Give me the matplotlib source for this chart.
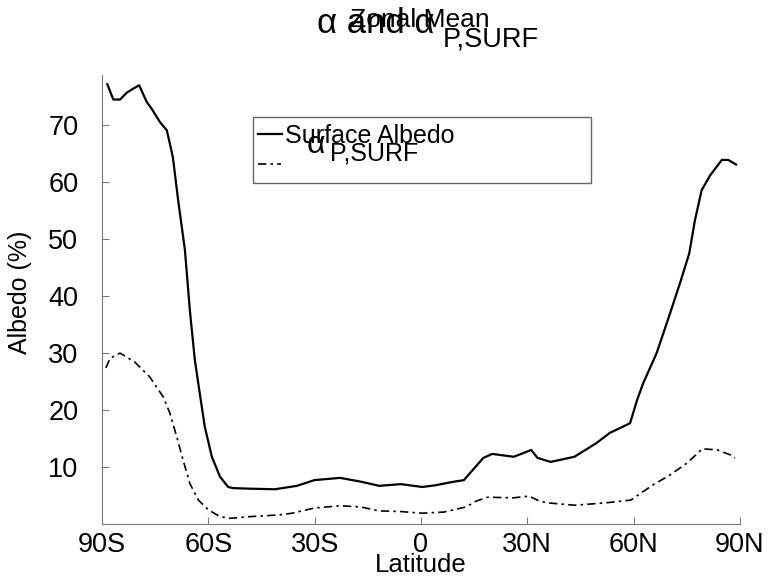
"""Zonal mean surface albedo and its planetary-surface component."""

import matplotlib.pyplot as plt
from matplotlib.lines import Line2D
from matplotlib.patches import Rectangle

plt.rcParams["font.family"] = ["Liberation Sans", "DejaVu Sans"]

# zonal mean surface albedo (%)
lat_surf = [-88.5, -86.8, -84.9, -83.0, -81.2, -79.5, -77.4, -76.0, -73.6,
            -71.7, -70.0, -68.5, -66.6, -65.2, -63.8, -62.4, -61.0, -59.0,
            -56.7, -54.4, -53.0, -48.2, -41.2, -35.0, -30.1, -22.8, -16.7,
            -11.8, -5.7, 0.4, 4.1, 9.0, 12.1, 17.6, 20.1, 26.2, 31.1, 32.9,
            36.6, 43.3, 49.5, 53.3, 56.7, 59.0, 61.0, 62.7, 66.5, 70.3, 73.1,
            75.7, 77.3, 79.2, 81.6, 84.9, 86.7, 88.9]
albedo_surf = [77.2, 74.5, 74.5, 75.7, 76.4, 77.0, 74.1, 72.9, 70.5,
               69.1, 64.4, 56.8, 48.1, 37.5, 28.8, 22.9, 17.1, 11.8,
               8.3, 6.5, 6.3, 6.2, 6.1, 6.7, 7.7, 8.1, 7.4,
               6.7, 7.0, 6.5, 6.8, 7.4, 7.7, 11.6, 12.3, 11.8, 13.0, 11.6,
               10.9, 11.8, 14.2, 16.0, 17.0, 17.7, 21.8, 24.7, 30.0, 37.0, 42.3,
               47.5, 53.3, 58.6, 61.2, 63.9, 63.9, 63.1]

# alpha_P,SURF (%)
lat_psurf = [-88.9, -87.7, -84.9, -80.7, -76.5, -72.7, -70.8, -68.9, -67.1,
             -65.2, -62.8, -60.0, -56.7, -53.9, -48.2, -40.0, -36.3, -30.1,
             -22.8, -17.0, -11.8, -6.0, 0.4, 6.5, 12.7, 15.5, 18.8, 26.2,
             30.5, 33.5, 36.0, 43.3, 51.9, 59.2, 65.3, 70.0, 75.1, 79.4, 83.7,
             87.4, 88.6]
albedo_psurf = [27.4, 29.1, 30.0, 28.4, 25.8, 22.3, 19.4, 15.3, 11.2,
                7.1, 4.2, 2.5, 1.3, 1.0, 1.3, 1.6, 1.9, 2.8,
                3.2, 3.0, 2.3, 2.2, 1.9, 2.1, 3.0, 4.0, 4.7, 4.6,
                4.9, 4.0, 3.7, 3.3, 3.7, 4.2, 6.8, 8.5, 10.7, 13.2, 13.0,
                12.1, 11.6]

lat_ticks = [-90, -60, -30, 0, 30, 60, 90]
lat_labels = ["90S", "60S", "30S", "0", "30N", "60N", "90N"]
albedo_ticks = [10, 20, 30, 40, 50, 60, 70]

DASHDOT = (0, (5, 2.5, 1.5, 2.5))
GRAY = "#7a7a7a"

fig = plt.figure(figsize=(7.69, 5.78), dpi=100)
ax = fig.add_axes([0.1326, 0.0934, 0.8296, 0.7768])

ax.plot(lat_surf, albedo_surf, color="black", lw=1.6)
ax.plot(lat_psurf, albedo_psurf, color="black", lw=1.2, linestyle=DASHDOT)

ax.set_xlim(-90, 90)
ax.set_ylim(0, 78.8)
ax.set_xticks(lat_ticks)
ax.set_xticklabels(lat_labels)
ax.set_yticks(albedo_ticks)
ax.tick_params(axis="both", direction="in", length=5, color=GRAY,
               labelsize=19.5)
ax.tick_params(axis="x", pad=6)
ax.tick_params(axis="y", pad=17)
for side in ("top", "right"):
    ax.spines[side].set_visible(False)
for side in ("left", "bottom"):
    ax.spines[side].set_color(GRAY)

ax.set_xlabel("Latitude", fontsize=18.5, va="center")
ax.xaxis.set_label_coords(0.5, -0.091)
ax.set_ylabel("Albedo (%)", fontsize=18)
ax.yaxis.set_label_coords(-0.11, 0.517)

# two-line title, drawn on top of each other
fig.text(0.546, 1 - 27 / 578, "Zonal Mean", fontsize=19, ha="center",
         va="baseline")
fig.text(317 / 769, 1 - 33 / 578, "α and α", fontsize=25, ha="left",
         va="baseline")
fig.text(443 / 769, 1 - 47 / 578, "P,SURF", fontsize=19.5, ha="left",
         va="baseline")

# legend box
fig.add_artist(Rectangle((253 / 769, 1 - 183 / 578), 338 / 769, 66 / 578,
                         transform=fig.transFigure, facecolor="white",
                         edgecolor="#666666", lw=1.0))
fig.add_artist(Line2D([258 / 769, 282 / 769], [1 - 134 / 578] * 2,
                      transform=fig.transFigure, color="black", lw=1.6))
fig.add_artist(Line2D([258 / 769, 281 / 769], [1 - 164 / 578] * 2,
                      transform=fig.transFigure, color="black", lw=1.2,
                      linestyle=DASHDOT))
fig.text(285 / 769, 1 - 143 / 578, "Surface Albedo", fontsize=18,
         va="baseline")
fig.text(307 / 769, 1 - 153 / 578, "α", fontsize=23, va="baseline")
fig.text(330 / 769, 1 - 161 / 578, "P,SURF", fontsize=18, va="baseline")

fig.savefig("out.png", dpi=100)
